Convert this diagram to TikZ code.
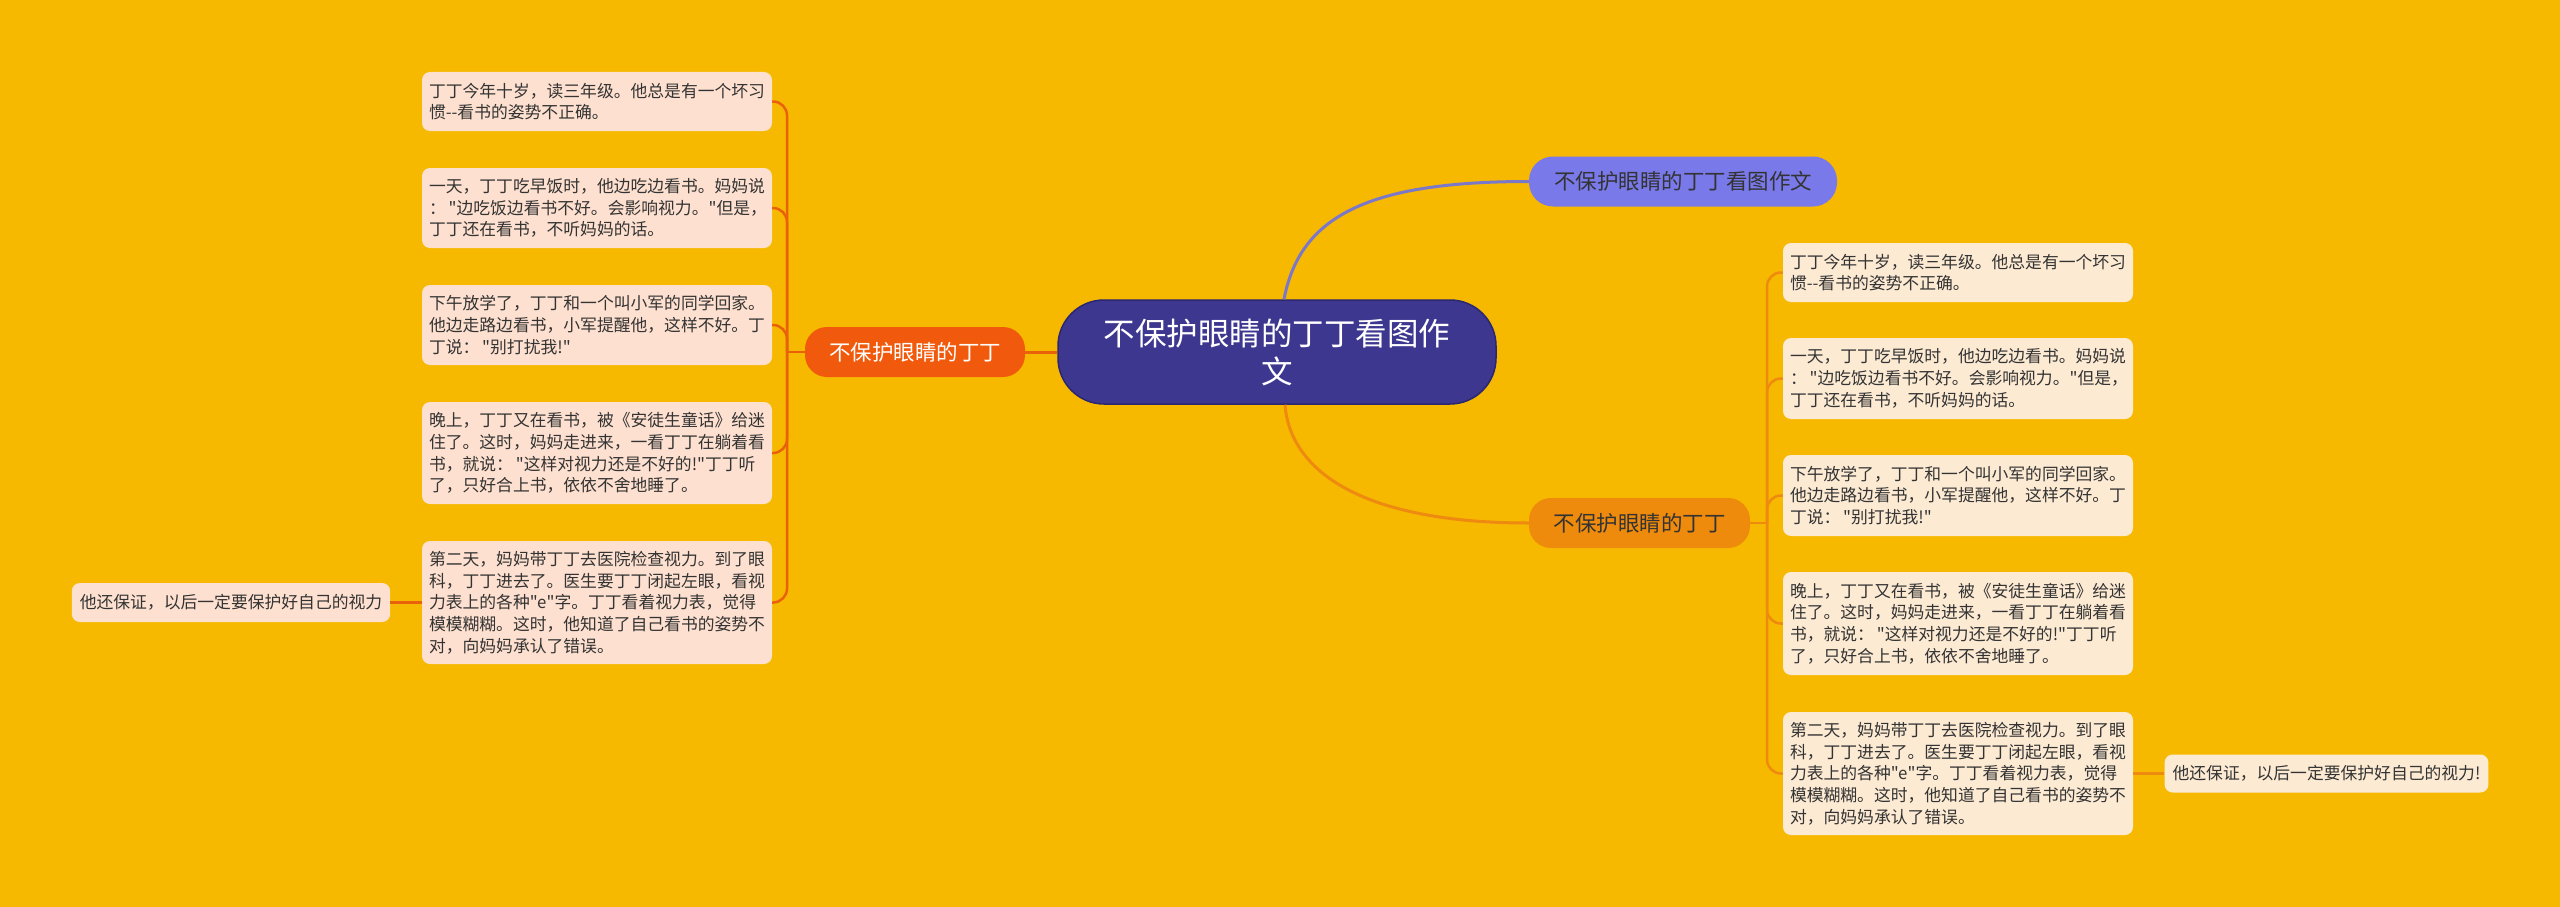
\documentclass[tikz,border=0pt]{standalone}
\usepackage{fontspec}
\newfontfamily\cjk{Noto Sans CJK SC}
\definecolor{bg}{HTML}{F6B900}
\definecolor{cfill}{HTML}{3E3790}
\definecolor{cborder}{HTML}{2B2770}
\definecolor{topfill}{HTML}{7A79EA}
\definecolor{lbfill}{HTML}{F15A0C}
\definecolor{rbfill}{HTML}{EE8A0C}
\definecolor{lfill}{HTML}{FDE0CF}
\definecolor{rfill}{HTML}{FCEAD3}
\definecolor{lline}{HTML}{EA610C}
\definecolor{rline}{HTML}{EE8A10}
\definecolor{bline}{HTML}{7B78C9}
\definecolor{txt}{HTML}{333333}
\begin{document}
\begin{tikzpicture}[x=1pt,y=-1pt,
  box/.style={rounded corners=8pt, font=\cjk\fontsize{16.8}{21.7}\selectfont, text=txt, align=left, text width=336pt, inner xsep=7pt, inner ysep=0pt, anchor=center},
  lbox/.style={box, fill=lfill},
  rbox/.style={box, fill=rfill},
  leaf/.style={rounded corners=8pt, font=\cjk\fontsize{16.8}{21.7}\selectfont, text=txt, inner xsep=8pt, inner ysep=0pt, anchor=center},
  branch/.style={rounded corners=22pt, font=\cjk\fontsize{21.5}{26}\selectfont, inner sep=0pt, minimum height=50pt, anchor=center},
  lconn/.style={draw=lline, line width=2.5pt},
  rconn/.style={draw=rline, line width=2.5pt},
  bconn/.style={draw=bline, line width=3pt}
]
\useasboundingbox (0,0) rectangle (2560,907);
\fill[bg] (0,0) rectangle (2560,907);

% central
\node[rounded corners=46pt, fill=cfill, draw=cborder, line width=1.5pt, minimum width=438pt, minimum height=104pt, inner sep=0pt, text=white, align=center, font=\cjk\fontsize{31.5}{38}\selectfont] (c) at (1277,352) {不保护眼睛的丁丁看图作\\文};

% first level
\node[branch, fill=topfill, text=txt, minimum width=308pt, rounded corners=24pt] (top) at (1683,181.5) {不保护眼睛的丁丁看图作文};
\node[branch, fill=lbfill, text=white, minimum width=220pt] (lb) at (915,352) {不保护眼睛的丁丁};
\node[branch, fill=rbfill, text=txt, minimum width=221pt] (rb) at (1639.5,523) {不保护眼睛的丁丁};

% left boxes
\node[lbox, minimum height=59pt] (L1) at (597,101.5) {丁丁今年十岁，读三年级。他总是有一个坏习\\惯-\kern0pt-看书的姿势不正确。};
\node[lbox, minimum height=80pt] (L2) at (597,208) {一天，丁丁吃早饭时，他边吃边看书。妈妈说\\：\,"边吃饭边看书不好。会影响视力。"但是，\\丁丁还在看书，不听妈妈的话。};
\node[lbox, minimum height=80pt] (L3) at (597,325) {下午放学了，丁丁和一个叫小军的同学回家。\\他边走路边看书，小军提醒他，这样不好。丁\\丁说：\,"别打扰我!"};
\node[lbox, minimum height=102pt] (L4) at (597,453) {晚上，丁丁又在看书，被《安徒生童话》给迷\\住了。这时，妈妈走进来，一看丁丁在躺着看\\书，就说：\,"这样对视力还是不好的!"丁丁听\\了，只好合上书，依依不舍地睡了。};
\node[lbox, minimum height=123pt] (L5) at (597,602.5) {第二天，妈妈带丁丁去医院检查视力。到了眼\\科，丁丁进去了。医生要丁丁闭起左眼，看视\\力表上的各种"e"字。丁丁看着视力表，觉得\\模模糊糊。这时，他知道了自己看书的姿势不\\对，向妈妈承认了错误。};
\node[leaf, fill=lfill, minimum width=318pt, minimum height=39pt] (LL) at (231,602.5) {他还保证，以后一定要保护好自己的视力};

% right boxes
\node[rbox, minimum height=59pt] (R1) at (1958,272.5) {丁丁今年十岁，读三年级。他总是有一个坏习\\惯-\kern0pt-看书的姿势不正确。};
\node[rbox, minimum height=81pt] (R2) at (1958,378.5) {一天，丁丁吃早饭时，他边吃边看书。妈妈说\\：\,"边吃饭边看书不好。会影响视力。"但是，\\丁丁还在看书，不听妈妈的话。};
\node[rbox, minimum height=81pt] (R3) at (1958,495.5) {下午放学了，丁丁和一个叫小军的同学回家。\\他边走路边看书，小军提醒他，这样不好。丁\\丁说：\,"别打扰我!"};
\node[rbox, minimum height=103pt] (R4) at (1958,623.5) {晚上，丁丁又在看书，被《安徒生童话》给迷\\住了。这时，妈妈走进来，一看丁丁在躺着看\\书，就说：\,"这样对视力还是不好的!"丁丁听\\了，只好合上书，依依不舍地睡了。};
\node[rbox, minimum height=123pt] (R5) at (1958,773.5) {第二天，妈妈带丁丁去医院检查视力。到了眼\\科，丁丁进去了。医生要丁丁闭起左眼，看视\\力表上的各种"e"字。丁丁看着视力表，觉得\\模模糊糊。这时，他知道了自己看书的姿势不\\对，向妈妈承认了错误。};
\node[leaf, fill=rfill, minimum width=323pt, minimum height=38pt] (RL) at (2326.5,773.5) {他还保证，以后一定要保护好自己的视力!};

% junctions
\coordinate (lj) at (787,352);
\coordinate (rj) at (1767,523);

% connectors (drawn behind nodes)
\begin{scope}[on background layer/.style={}]
\end{scope}
\draw[lconn, line width=3pt] (c.west) -- (lb.east);
\draw[lconn] (lb.west) -- (lj);
\foreach \b in {L1,L2,L3,L4,L5}
  \draw[lconn, rounded corners=14pt] (lj) |- (\b.east);
\draw[rconn] (rb.east) -- (rj);
\foreach \b in {R1,R2,R3,R4,R5}
  \draw[rconn, rounded corners=14pt] (rj) |- (\b.west);
\draw[lconn] (LL.east) -- (L5.west);
\draw[rconn] (R5.east) -- (RL.west);
\draw[bconn] ([xshift=7pt]c.north) .. controls (1300,215) and (1370,181.5) .. (top.west);
\draw[rconn, line width=3pt] ([xshift=8pt]c.south) .. controls (1290,470) and (1360,523) .. (rb.west);
\end{tikzpicture}
\end{document}
